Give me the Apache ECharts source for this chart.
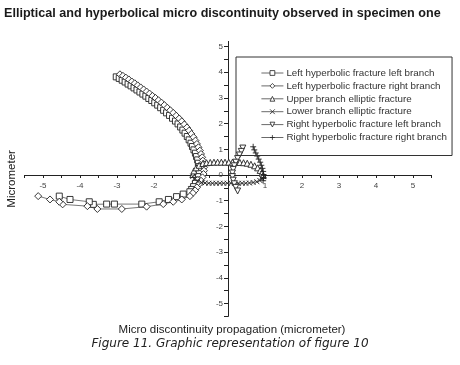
<!DOCTYPE html>
<html><head><meta charset="utf-8">
<script src="https://cdn.jsdelivr.net/npm/echarts@6/dist/echarts.min.js"></script>
<style>html,body{margin:0;padding:0;background:#fff}#c{width:460px;height:365px}</style>
</head><body><div id="c"></div>
<script>
// ---- data ----
var titleText = "Elliptical and hyperbolical micro discontinuity observed in specimen one";
var captionText = "Figure 11. Graphic representation of figure 10";
var xName = "Micro discontinuity propagation (micrometer)";
var yName = "Micrometer";
var seriesNames = [
  "Left hyperbolic fracture left branch",
  "Left hyperbolic fracture right branch",
  "Upper branch elliptic fracture",
  "Lower branch elliptic fracture",
  "Right hyperbolic fracture left branch",
  "Right hyperbolic fracture right branch"
];
var xTickLabels = [-5,-4,-3,-2,-1,1,2,3,4,5];
var yTickLabels = [-5,-4,-3,-2,-1,0,1,2,3,4,5];
var xTicks = [-5.5,-5,-4.5,-4,-3.5,-3,-2.5,-2,-1.5,-1,-0.5,0,0.5,1,1.5,2,2.5,3,3.5,4,4.5,5,5.5];
var yTicks = [-5.5,-5,-4.5,-4,-3.5,-3,-2.5,-2,-1.5,-1,-0.5,0,0.5,1,1.5,2,2.5,3,3.5,4,4.5,5];

var leftHypLeft = [[-3.02,3.82],[-2.94,3.76],[-2.86,3.69],[-2.78,3.62],[-2.70,3.54],[-2.62,3.47],[-2.54,3.39],[-2.46,3.31],[-2.38,3.23],[-2.30,3.15],[-2.22,3.07],[-2.14,2.98],[-2.06,2.90],[-1.98,2.81],[-1.90,2.72],[-1.82,2.62],[-1.74,2.52],[-1.66,2.42],[-1.58,2.32],[-1.50,2.21],[-1.42,2.10],[-1.35,1.99],[-1.28,1.87],[-1.22,1.75],[-1.16,1.63],[-1.10,1.50],[-1.05,1.37],[-1.00,1.24],[-0.96,1.11],[-0.92,0.98],[-0.88,0.85],[-0.85,0.72],[-0.82,0.59],[-0.80,0.46],[-0.78,0.33],[-0.77,0.20],[-0.78,0.07],[-0.80,-0.06],[-0.84,-0.19],[-0.88,-0.32],[-0.93,-0.45],[-0.98,-0.56],[-1.03,-0.65],[-1.21,-0.74],[-1.39,-0.84],[-1.61,-0.95],[-1.86,-1.04],[-2.33,-1.13],[-3.07,-1.13],[-3.28,-1.13],[-3.64,-1.14],[-3.75,-1.04],[-4.27,-0.95],[-4.56,-0.82]];
var leftHypRight = [[-2.92,3.92],[-2.84,3.86],[-2.76,3.79],[-2.68,3.72],[-2.60,3.64],[-2.52,3.57],[-2.44,3.49],[-2.36,3.41],[-2.28,3.33],[-2.20,3.25],[-2.12,3.17],[-2.04,3.08],[-1.96,3.00],[-1.88,2.91],[-1.80,2.82],[-1.72,2.72],[-1.64,2.62],[-1.56,2.52],[-1.48,2.42],[-1.40,2.31],[-1.32,2.20],[-1.25,2.09],[-1.18,1.97],[-1.11,1.85],[-1.05,1.73],[-0.99,1.60],[-0.93,1.47],[-0.88,1.34],[-0.84,1.21],[-0.80,1.08],[-0.76,0.95],[-0.73,0.82],[-0.70,0.69],[-0.68,0.56],[-0.66,0.43],[-0.65,0.30],[-0.65,0.17],[-0.66,0.04],[-0.69,-0.09],[-0.73,-0.22],[-0.78,-0.35],[-0.84,-0.48],[-0.89,-0.60],[-0.95,-0.70],[-1.03,-0.82],[-1.25,-0.95],[-1.48,-1.04],[-1.75,-1.13],[-2.20,-1.23],[-2.87,-1.32],[-3.53,-1.32],[-3.80,-1.21],[-4.47,-1.14],[-4.56,-1.04],[-4.81,-0.95],[-5.13,-0.82]];
var upperEllipse = [[-0.95,0.02],[-0.92,0.16],[-0.86,0.28],[-0.78,0.38],[-0.68,0.45],[-0.58,0.48],[-0.48,0.49],[-0.38,0.50],[-0.28,0.50],[-0.18,0.50],[-0.08,0.50],[0.02,0.50],[0.12,0.50],[0.22,0.50],[0.32,0.49],[0.42,0.48],[0.52,0.46],[0.62,0.42],[0.72,0.36],[0.80,0.28],[0.87,0.18],[0.92,0.08],[0.95,-0.02]];
var lowerEllipse = [[-0.95,-0.05],[-0.90,-0.16],[-0.82,-0.24],[-0.72,-0.29],[-0.62,-0.31],[-0.52,-0.32],[-0.42,-0.32],[-0.32,-0.32],[-0.22,-0.32],[-0.12,-0.32],[-0.02,-0.32],[0.08,-0.32],[0.18,-0.32],[0.28,-0.32],[0.38,-0.32],[0.48,-0.32],[0.58,-0.31],[0.68,-0.29],[0.78,-0.26],[0.86,-0.21],[0.92,-0.14],[0.96,-0.06]];
var rightHypLeft = [[0.40,1.05],[0.36,0.92],[0.31,0.78],[0.26,0.64],[0.21,0.50],[0.17,0.36],[0.14,0.22],[0.12,0.08],[0.12,-0.06],[0.14,-0.20],[0.17,-0.34],[0.21,-0.48],[0.26,-0.62]];
var rightHypRight = [[0.68,1.10],[0.71,0.98],[0.75,0.86],[0.79,0.74],[0.83,0.62],[0.87,0.50],[0.90,0.38],[0.93,0.26],[0.95,0.14],[0.96,0.02],[0.96,-0.10],[0.95,-0.22]];

var seriesData = [leftHypLeft, leftHypRight, upperEllipse, lowerEllipse, rightHypLeft, rightHypRight];
var symbols = ['rect','diamond','triangle','path://M0,0L10,10M10,0L0,10','triangle','path://M5,0L5,10M0,5L10,5'];
var rotations = [0,0,0,0,180,0];
var sizes = [6,7,6,5,6,6];

var ink = '#222';
var chart = echarts.init(document.getElementById('c'), null, {renderer:'canvas'});
var series = seriesData.map(function(d,i){
  return {
    name: seriesNames[i], type:'line', data:d,
    symbol: symbols[i], symbolSize: sizes[i], symbolRotate: rotations[i],
    showAllSymbol: true, animation:false,
    lineStyle:{color:'#555', width:0.8},
    itemStyle:{color:'#fff', borderColor:ink, borderWidth:0.9}
  };
});
chart.setOption({
  backgroundColor:'#fff',
  animation:false,
  title:[
    {text:titleText, left:4, top:7, padding:0, textStyle:{fontFamily:'Liberation Sans', fontWeight:'bold', fontSize:12.6, color:'#1a1a1a'}},
    {text:captionText, left:'center', top:338, padding:0, textStyle:{fontFamily:'DejaVu Sans', fontStyle:'italic', fontWeight:'normal', fontSize:12, color:'#222'}}
  ],
  grid:{left:24.5, right:28.5, top:41.4, bottom:48.6, containLabel:false, outerBoundsMode:'none'},
  legend:{
    orient:'vertical', left:236, top:57, data:seriesNames,
    itemWidth:22, itemHeight:6, itemGap:2.9,
    padding:[11,5,13,25], borderColor:'#333', borderWidth:1,
    lineStyle:{color:'#444', width:0.8},
    itemStyle:{color:'#fff', borderColor:ink, borderWidth:0.8},
    textStyle:{fontFamily:'Liberation Sans', fontSize:9.8, color:'#333', lineHeight:10, padding:[0,0,0,-2]}
  },
  xAxis:{
    type:'value', min:-5.5, max:5.5, offset:-141.4,
    name:xName, nameLocation:'middle', nameGap:149,
    nameTextStyle:{fontFamily:'Liberation Sans', fontSize:11.5, color:'#222', padding:[0,0,0,8]},
    axisLine:{onZero:false, lineStyle:{color:'#222', width:1}},
    axisTick:{customValues:xTicks, length:3, lineStyle:{color:'#222'}},
    axisLabel:{customValues:xTickLabels, fontSize:8, color:'#444', margin:7, fontFamily:'Liberation Sans'},
    splitLine:{show:false}
  },
  yAxis:{
    type:'value', min:-5.5, max:5.2, offset:-203.5,
    name:yName, nameLocation:'middle', nameGap:210, nameRotate:90,
    nameTextStyle:{fontFamily:'Liberation Sans', fontSize:11.5, color:'#222'},
    axisLine:{onZero:false, lineStyle:{color:'#222', width:1}},
    axisTick:{customValues:yTicks, length:4, lineStyle:{color:'#222'}},
    axisLabel:{customValues:yTickLabels, fontSize:8, color:'#444', margin:5, fontFamily:'Liberation Sans'},
    splitLine:{show:false}
  },
  series:series
});
</script></body></html>
